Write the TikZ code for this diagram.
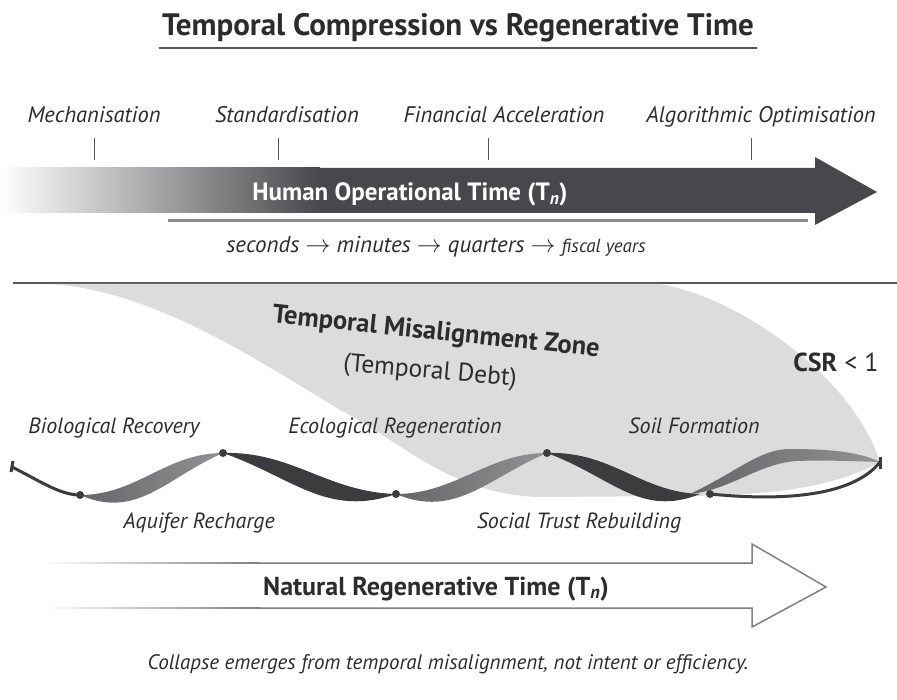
\documentclass[tikz,border=0pt]{standalone}
\usepackage{fontspec}
\setmainfont{PT Sans}
\usetikzlibrary{positioning}

\definecolor{inkgray}{HTML}{2C2C2E}
\definecolor{arrowdark}{HTML}{48484C}
\definecolor{zonegray}{HTML}{DCDCDC}
\definecolor{ribbondark}{HTML}{3C3C3F}
\definecolor{ribbonlight}{HTML}{7F7F82}
\definecolor{rulegray}{HTML}{8A8A94}
\definecolor{tickgray}{HTML}{555555}

\begin{document}
\begin{tikzpicture}[x=1pt,y=-1pt,
    heading/.style={font=\fontsize{31}{36}\selectfont\bfseries, text=inkgray},
    milestone/.style={font=\fontsize{22.5}{26}\selectfont\itshape, text=inkgray, anchor=base},
    process/.style={font=\fontsize{22}{26}\selectfont\itshape, text=inkgray, anchor=base},
    darkband/.style={fill=ribbondark},
    lightband/.style={left color=ribbonlight!80!black, right color=ribbonlight!85},
    joint/.style={fill=ribbondark}]

    \useasboundingbox (0,0) rectangle (897,700);

    % title
    \node[heading, anchor=base] (title) at (458,36) {Temporal Compression vs Regenerative Time};
    \draw[line width=2pt, tickgray] (title.base west) ++(0,12) coordinate (ul) -- (ul -| title.base east);

    % milestones along the human timeline
    \node[milestone] (mech) at (94,123) {Mechanisation};
    \node[milestone] (stand) at (287,123) {Standardisation};
    \node[milestone] (fin) at (504,123) {Financial Acceleration};
    \node[milestone] (algo) at (761,123) {Algorithmic Optimisation};
    \foreach \x in {94,278,488,751}
        \draw[tickgray, line width=1pt] (\x,138) -- (\x,160);

    % human operational time arrow
    \fill[arrowdark] (300,168) -- (815,168) -- (815,157) -- (877,192) -- (815,225) -- (815,213) -- (300,213) -- cycle;
    \shade[left color=white, middle color=gray!55, right color=arrowdark] (0,168) rectangle (320,213);
    \node[font=\fontsize{25}{29}\selectfont\bfseries, text=white, anchor=base] (human) at (410,201) {Human Operational Time (T\textsubscript{\itshape n})};
    \draw[rulegray, line width=3pt] (168,221) -- (808,221);
    \node[font=\fontsize{23}{27}\selectfont\itshape, text=inkgray, anchor=base] (units) at (436,253) {seconds $\rightarrow$ minutes $\rightarrow$ quarters $\rightarrow$ {\fontsize{19}{22}\selectfont fiscal years}};

    % separator
    \draw[tickgray, line width=1.5pt] (13,283) -- (897,283);

    % misalignment zone
    \fill[zonegray] (50,284) -- (660,284) .. controls (730,295) and (850,370) .. (880,462)
        .. controls (830,490) and (760,495) .. (690,496) -- (540,497)
        .. controls (450,495) and (400,440) .. (340,410)
        .. controls (250,355) and (150,290) .. cycle;
    \node[font=\fontsize{26.5}{30}\selectfont\bfseries, text=inkgray, rotate=-6, inner sep=0pt] (zone) at (436,333) {Temporal Misalignment Zone};
    \node[font=\fontsize{25.5}{30}\selectfont, text=inkgray, rotate=-5, inner sep=0pt] (debt) at (430,372) {(Temporal Debt)};
    \node[font=\fontsize{26}{30}\selectfont, text=inkgray] (csr) at (836,362) {\textbf{CSR} < 1};

    % regeneration processes
    \node[process] (bio) at (114,434) {Biological Recovery};
    \node[process] (eco) at (395,434) {Ecological Regeneration};
    \node[process] (soil) at (694,434) {Soil Formation};
    \node[process] (aqui) at (199,528) {Aquifer Recharge};
    \node[process] (trust) at (579,528) {Social Trust Rebuilding};

    % twisted ribbon
    \draw[ribbondark, line width=3pt] (12,467) .. controls (40,481) and (60,495) .. (80,495);
    \draw[ribbondark, line width=3pt] (13,461) -- (11,472);
    \path[lightband] (80,495) .. controls (137,495) and (166,453) .. (223,453)
        .. controls (166,478) and (137,520) .. cycle;
    \path[darkband] (223,453) .. controls (292,451) and (327,492) .. (396,494)
        .. controls (327,518) and (292,477) .. cycle;
    \path[lightband] (396,494) .. controls (455,494) and (488,453) .. (547,453)
        .. controls (488,478) and (455,519) .. cycle;
    \path[darkband] (547,453) .. controls (612,451) and (640,492) .. (700,494)
        .. controls (640,518) and (612,477) .. cycle;
    \path[lightband] (690,494) .. controls (740,470) and (760,449) .. (790,449)
        .. controls (830,449) and (860,452) .. (880,462)
        .. controls (850,461) and (820,460) .. (797,461)
        .. controls (760,463) and (730,490) .. cycle;
    \draw[ribbondark, line width=3pt] (710,494) .. controls (770,500) and (850,500) .. (880,462);
    \draw[ribbondark, line width=3pt] (880,457) -- (880,469);
    \foreach \p in {(80,495),(223,453),(396,494),(547,453),(710,494)}
        \fill[joint] \p circle (4);

    % natural regenerative time arrow
    \shade[left color=white, right color=gray] (43,562.25) rectangle (260,563.75);
    \shade[left color=white, right color=gray] (43,607.25) rectangle (260,608.75);
    \draw[gray, line width=1.5pt] (260,563) -- (752,563) -- (752,544) -- (826,587) -- (752,627) -- (752,608) -- (260,608);
    \node[font=\fontsize{26}{30}\selectfont\bfseries, text=inkgray, anchor=base] (natural) at (436,595) {Natural Regenerative Time (T\textsubscript{\itshape n})};

    % closing remark
    \node[font=\fontsize{21}{25}\selectfont\itshape, text=inkgray, anchor=base] (remark) at (448,669) {Collapse emerges from temporal misalignment, not intent or efficiency.};

\end{tikzpicture}
\end{document}
